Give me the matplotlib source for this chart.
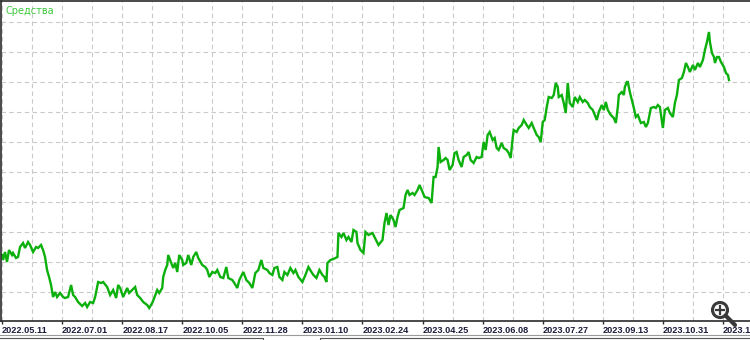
#!/usr/bin/env python3

import matplotlib.pyplot as plt
import numpy as np
from matplotlib.patches import Circle

# deal index along the x axis, equity in chart units (no y labels shown)
deal = [2, 3, 5, 7, 9, 12, 13, 16, 18, 20, 23, 25, 28, 30, 33, 36, 38, 41, 43, 45,
        47, 49, 51, 53, 55, 57, 60, 63, 65, 68, 71, 73, 75, 78, 82, 85, 87, 90, 93, 95,
        98, 101, 103, 107, 110, 113, 116, 118,
        120, 123, 127, 129, 132, 135, 137, 140, 143, 147, 149, 152, 154, 157, 159, 162,
        163, 165, 167, 168, 171, 173, 175, 177, 179, 182, 183, 186, 188, 191, 193, 196,
        198, 202, 205, 207, 209, 212, 215, 217, 220, 223, 226, 228, 232, 234, 237, 239,
        243, 246, 249, 252, 255, 258, 261, 263, 267, 269, 272, 274, 277, 279, 282, 284,
        287, 290, 293, 295, 298, 302, 305, 308, 311, 313, 316, 319, 322, 324, 326, 327,
        330, 333, 337, 338, 341, 343, 346, 348, 351, 353, 356, 357, 360, 363, 365, 368,
        372, 378, 382,
        384, 386, 388, 390, 393, 395, 397, 399, 403, 405, 407, 409, 412, 414, 417, 419,
        422, 424, 428, 431, 433, 435, 437, 438, 440, 443, 445, 447, 449, 452, 454, 456,
        458, 461, 463, 466, 468, 470, 473, 476, 478, 481,
        483, 485, 487, 489, 492, 494, 496, 498, 501, 503, 506, 508, 510, 512, 513, 516,
        518, 521, 523, 526, 528, 531, 533, 536, 538, 540, 542, 544, 546, 548, 551, 553,
        555, 557, 558, 561, 563, 565, 567, 569, 572, 574, 577, 579, 582, 584, 587, 589,
        592, 594, 596, 598, 601,
        603, 605, 607, 610, 613, 615, 617, 618, 621, 623, 624, 626, 627, 629, 631, 633,
        635, 637, 640, 643, 645, 647, 650, 653, 655, 657, 659, 662, 664, 667, 669, 672,
        674, 676, 678, 681, 683, 685, 687, 689, 692, 694, 697, 699, 702, 704, 706, 708,
        709, 711, 713, 714, 716, 718, 720, 723, 725, 727, 728]

equity = [66, 61, 69, 59, 71, 66, 68, 63, 64, 74, 78, 73, 79, 76, 69, 74, 73, 76, 71, 64,
          51, 44, 36, 24, 29, 24, 28, 24, 23, 24, 36, 26, 24, 19, 15, 18, 14, 19, 18, 24,
          39, 38, 39, 34, 26, 31, 23, 36,
          33, 24, 33, 28, 31, 34, 26, 23, 19, 16, 13, 18, 23, 31, 28, 33,
          44, 51, 56, 66, 58, 53, 58, 49, 66, 61, 56, 58, 66, 56, 64, 69,
          63, 56, 54, 51, 44, 49, 48, 51, 44, 43, 54, 43, 41, 38, 33, 41,
          49, 41, 38, 33, 48, 51, 61, 53, 51, 48, 46, 53, 54, 44, 41, 49,
          46, 53, 48, 51, 44, 39, 46, 54, 49, 46, 43, 51, 46, 44, 39, 58,
          61, 62, 64, 88, 84, 88, 81, 84, 79, 91, 89, 78, 71, 68, 89, 86,
          88, 76, 81,
          98, 108, 96, 106, 101, 94, 104, 111, 113, 126, 131, 126, 128, 126, 131, 136,
          129, 124, 123, 118, 144, 144, 154, 174, 159, 161, 163, 161, 151, 156, 168, 169,
          161, 154, 164, 166, 169, 161, 158, 164, 163, 164,
          179, 171, 186, 189, 181, 183, 173, 171, 178, 173, 171, 168, 163, 183, 191, 189,
          193, 196, 201, 196, 193, 198, 193, 186, 184, 179, 199, 201, 214, 224, 223, 226,
          238, 234, 224, 226, 218, 208, 238, 218, 214, 224, 219, 224, 219, 221, 218, 214,
          211, 206, 201, 209, 216,
          211, 219, 211, 206, 203, 198, 214, 226, 229, 226, 234, 239, 239, 229, 221, 213,
          204, 206, 198, 199, 194, 198, 213, 214, 213, 216, 214, 193, 211, 213, 208, 204,
          218, 226, 241, 243, 249, 258, 254, 249, 256, 251, 258, 254, 261, 271, 279, 289,
          279, 268, 264, 258, 264, 264, 259, 254, 248, 246, 241]

date_labels = ["2022.05.11", "2022.07.01", "2022.08.17", "2022.10.05", "2022.11.28",
               "2023.01.10", "2023.02.24", "2023.04.25", "2023.06.08", "2023.07.27",
               "2023.09.13", "2023.10.31", "2023.12.19"]

GREEN = "#0cb00c"
FRAME = "#2a2a2a"
GRID = "#c9c9c9"

fig = plt.figure(figsize=(7.5, 3.4), dpi=100)
ax = fig.add_axes([1 / 750, 19 / 340, 1.0, 320 / 340])

ax.plot(deal, equity, color=GREEN, linewidth=1.7, solid_joinstyle="miter")

ax.set_xlim(1, 750)
ax.set_ylim(0, 320)

# labels every 60 deals, grid every 30
major = np.arange(2, 750, 60)
ax.set_xticks(major)
ax.set_xticklabels(date_labels[:len(major)], ha="left", fontsize=6.6,
                   family="Liberation Sans", fontweight="bold", color="#1c1c3c")
ax.set_xticks(np.arange(32, 750, 60), minor=True)
ax.set_yticks(np.arange(29, 320, 30))
ax.set_yticklabels([])
ax.tick_params(axis="x", which="major", length=2, width=1, color=FRAME, pad=1.5)
ax.tick_params(axis="x", which="minor", length=0)
ax.tick_params(axis="y", length=0)
ax.grid(True, which="both", color=GRID, linestyle=(0, (4, 3)), linewidth=0.8)

for s in ["left", "top", "bottom"]:
    ax.spines[s].set_color(FRAME)
    ax.spines[s].set_linewidth(1.2)
ax.spines["right"].set_visible(False)

ax.text(4 / 750, 1 - 10 / 320, "Средства", transform=ax.transAxes, fontsize=7,
        color="#3cc83c", va="center", ha="left")

# overlay in pixel units for the window bits below the axis
ov = fig.add_axes([0, 0, 1, 1], zorder=5)
ov.set_xlim(0, 750)
ov.set_ylim(340, 0)
ov.axis("off")
ov.plot([0, 750], [335, 335], color="#9a9a9a", linewidth=0.8)
ov.plot([0, 263, 263], [338, 338, 341], color="#555555", linewidth=0.8)
ov.plot([320, 320, 750], [341, 338, 338], color="#555555", linewidth=0.8)

# zoom magnifier icon
ov.add_patch(Circle((720, 310), 7.5, facecolor="white", edgecolor="#3a3a3a", linewidth=2.2))
ov.plot([725.5, 735], [315.5, 325], color="#3a3a3a", linewidth=3, solid_capstyle="round")
ov.plot([716, 724], [310, 310], color="#3a3a3a", linewidth=1.6)
ov.plot([720, 720], [306, 314], color="#3a3a3a", linewidth=1.6)

fig.savefig("out.png", dpi=100)
